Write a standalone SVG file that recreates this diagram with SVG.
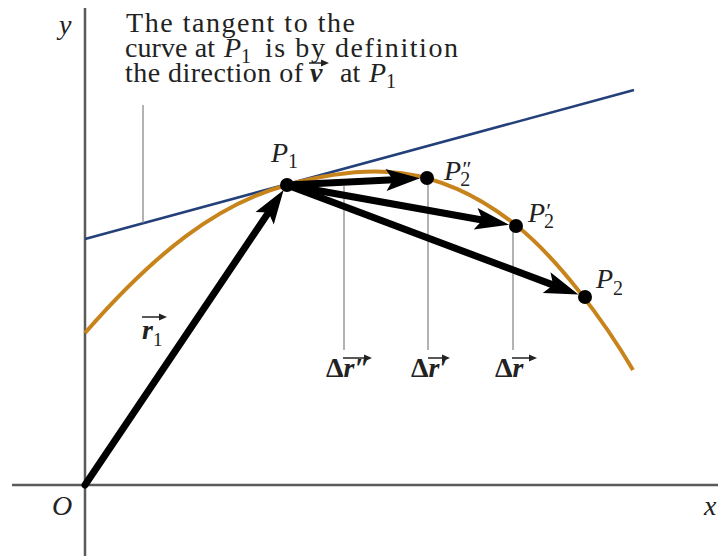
<svg xmlns="http://www.w3.org/2000/svg" width="718" height="556" viewBox="0 0 718 556">
<defs>
<style>
.t{font-family:"Liberation Serif","Times New Roman",serif;fill:#222;font-size:28px}
.it{font-style:italic}
.bi{font-style:italic;font-weight:bold}
.b{font-weight:bold}
.n{font-style:normal;font-weight:normal}
.axis{stroke:#5a5a5a;stroke-width:2.5;fill:none}
.lead{stroke:#8a8a8a;stroke-width:1.3;fill:none}
.vec{stroke:#000;stroke-width:7;fill:none;marker-end:url(#ah)}
.dot{fill:#000}
.va{stroke:#222;stroke-width:1.5;fill:none}
.vh{fill:#222}
</style>
<marker id="ah" markerUnits="userSpaceOnUse" markerWidth="40" markerHeight="26" viewBox="-36 -13 40 26" refX="-26" refY="0" orient="auto">
<path d="M0,0 L-34,-11 L-27,0 L-34,11 Z" fill="#000"/>
</marker>
</defs>
<rect width="718" height="556" fill="#fff"/>

<g id="axes">
<line class="axis" x1="85" y1="8" x2="85" y2="556"/>
<line class="axis" x1="12" y1="485" x2="718" y2="485"/>
<text class="t it" x="59" y="34" font-size="25">y</text>
<text class="t it" x="52" y="515" font-size="25">O</text>
<text class="t it" x="704" y="515" font-size="26">x</text>
</g>

<g id="tangent">
<line x1="85" y1="239" x2="634" y2="90" stroke="#23407a" stroke-width="2.5"/>
</g>

<g id="curve">
<path d="M85,333 C155,253 217,204 287,185 C367,163 437,162 517,226 C557,258 603,319 633,370" fill="none" stroke="#c8841c" stroke-width="4"/>
</g>

<g id="leaders">
<line class="lead" x1="143" y1="105" x2="143" y2="223"/>
<line class="lead" x1="344" y1="186" x2="344" y2="350"/>
<line class="lead" x1="428" y1="180" x2="428" y2="350"/>
<line class="lead" x1="513" y1="222" x2="513" y2="350"/>
</g>

<g id="connectors">
<line class="vec" x1="85" y1="485" x2="269.1" y2="211.6" stroke-linecap="round"/>
<line class="vec" x1="287" y1="185" x2="394" y2="179.65"/>
<line class="vec" x1="287" y1="185" x2="483.5" y2="220.2"/>
<line class="vec" x1="287" y1="185" x2="554.1" y2="285.4"/>
</g>

<g id="note">
<text class="t" x="126" y="32" textLength="229" lengthAdjust="spacing">The tangent to the</text>
<text class="t" x="125" y="57" textLength="90" lengthAdjust="spacing">curve at</text>
<text class="t it" x="224" y="57">P<tspan class="n" font-size="20" dy="6">1</tspan></text>
<text class="t" x="265" y="57" textLength="193" lengthAdjust="spacing">is by definition</text>
<text class="t" x="125" y="82" textLength="178" lengthAdjust="spacing">the direction of</text>
<text class="t bi" x="310" y="82">v</text>
<line class="va" x1="309" y1="63" x2="322" y2="63"/>
<path class="vh" d="M329,63 L321,59.5 L321,66.5 Z"/>
<text class="t" x="340" y="82">at</text>
<text class="t it" x="369" y="82">P<tspan class="n" font-size="20" dy="6">1</tspan></text>
</g>

<g id="node-P1">
<circle class="dot" cx="287" cy="185" r="7"/>
<text class="t it" x="271" y="162" font-size="27">P<tspan class="n" font-size="20" dy="6">1</tspan></text>
</g>

<g id="node-P2pp">
<circle class="dot" cx="427" cy="178" r="7"/>
<text class="t it" x="444" y="180" font-size="27">P<tspan font-size="22" dy="-4">″</tspan><tspan class="n" font-size="20" dx="-10" dy="10">2</tspan></text>
</g>

<g id="node-P2p">
<circle class="dot" cx="516" cy="226" r="7"/>
<text class="t it" x="528" y="222" font-size="27">P<tspan font-size="22" dy="-4">′</tspan><tspan class="n" font-size="20" dx="-6" dy="10">2</tspan></text>
</g>

<g id="node-P2">
<circle class="dot" cx="585" cy="297" r="7"/>
<text class="t it" x="596" y="288" font-size="27">P<tspan class="n" font-size="20" dy="7">2</tspan></text>
</g>

<g id="label-r1">
<text class="t bi" x="142" y="339" font-size="25">r<tspan class="n" font-size="19" dy="7">1</tspan></text>
<line class="va" x1="142" y1="317" x2="160" y2="317"/>
<path class="vh" d="M167,317 L159,313.5 L159,320.5 Z"/>
</g>

<g id="label-dr2">
<text class="t b" x="326" y="377" font-size="26">Δ<tspan class="bi">r″</tspan></text>
<line class="va" x1="343" y1="358" x2="365" y2="358"/>
<path class="vh" d="M372,358 L364,354.5 L364,361.5 Z"/>
</g>

<g id="label-dr1">
<text class="t b" x="411" y="377" font-size="26">Δ<tspan class="bi">r′</tspan></text>
<line class="va" x1="428" y1="358" x2="443" y2="358"/>
<path class="vh" d="M450,358 L442,354.5 L442,361.5 Z"/>
</g>

<g id="label-dr">
<text class="t b" x="495" y="377" font-size="26">Δ<tspan class="bi">r</tspan></text>
<line class="va" x1="512" y1="358" x2="530" y2="358"/>
<path class="vh" d="M537,358 L529,354.5 L529,361.5 Z"/>
</g>
</svg>
